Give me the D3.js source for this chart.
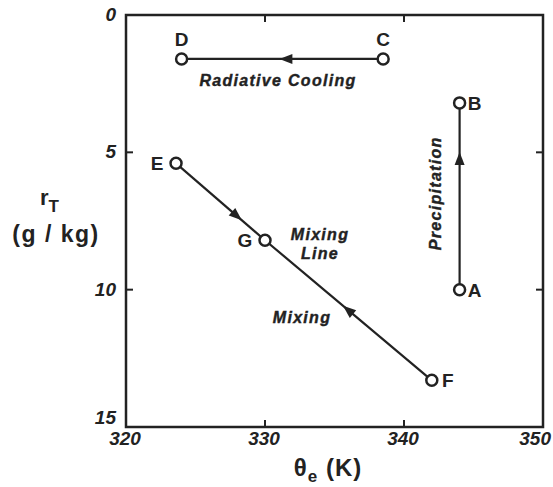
<!DOCTYPE html>
<html>
<head>
<meta charset="UTF-8">
<style>
  body { margin: 0; background: #fff; }
  svg text { font-family: "Liberation Sans", Arial, sans-serif; font-weight: bold; fill: #222; }
</style>
</head>
<body>
<div id="chart"></div>
<script src="https://cdnjs.cloudflare.com/ajax/libs/d3/7.8.5/d3.min.js"></script>
<script>
const pointNames = ["A", "B", "C", "D", "E", "F", "G"];
const thetaE = [344, 344, 338.5, 324, 323.6, 342, 330];
const rT = [10.0, 3.2, 1.6, 1.6, 5.4, 13.3, 8.2];

const segFrom = ["A", "C", "E", "F"];
const segTo = ["B", "D", "G", "G"];

const xTicks = [320, 330, 340, 350];
const yTicks = [0, 5, 10, 15];

const width = 553, height = 487;
const margin = { left: 126, right: 10, top: 15, bottom: 60 };

const svg = d3.select("#chart").append("svg")
    .attr("width", width).attr("height", height);

const x = d3.scaleLinear().domain([320, 350]).range([margin.left, width - margin.right]);
const y = d3.scaleLinear().domain([0, 15]).range([margin.top, height - margin.bottom]);

const ink = "#222";
const pt = {};
pointNames.forEach((n, i) => pt[n] = { x: x(thetaE[i]), y: y(rT[i]) });

// frame
svg.append("rect")
    .attr("x", x(320)).attr("y", y(0))
    .attr("width", x(350) - x(320)).attr("height", y(15) - y(0))
    .attr("fill", "none").attr("stroke", ink).attr("stroke-width", 2.5);

// inward ticks
const tl = 7;
xTicks.slice(1, -1).forEach(t => {
    svg.append("line").attr("x1", x(t)).attr("x2", x(t)).attr("y1", y(15)).attr("y2", y(15) - tl)
        .attr("stroke", ink).attr("stroke-width", 2);
    svg.append("line").attr("x1", x(t)).attr("x2", x(t)).attr("y1", y(0)).attr("y2", y(0) + tl)
        .attr("stroke", ink).attr("stroke-width", 2);
});
yTicks.slice(1, -1).forEach(t => {
    svg.append("line").attr("x1", x(320)).attr("x2", x(320) + tl).attr("y1", y(t)).attr("y2", y(t))
        .attr("stroke", ink).attr("stroke-width", 2);
    svg.append("line").attr("x1", x(350)).attr("x2", x(350) - tl).attr("y1", y(t)).attr("y2", y(t))
        .attr("stroke", ink).attr("stroke-width", 2);
});

// tick labels
svg.selectAll(".xl").data(xTicks).enter().append("text")
    .attr("x", d => d === 350 ? width - 2 : x(d) - 1).attr("y", y(15) + 18)
    .attr("text-anchor", d => d === 350 ? "end" : "middle")
    .attr("font-size", 19).attr("font-style", "italic")
    .text(d => d);
svg.selectAll(".yl").data(yTicks).enter().append("text")
    .attr("x", x(320) - 10).attr("y", d => d === 15 ? y(d) - 3 : y(d) + 6)
    .attr("text-anchor", "end").attr("font-size", 19).attr("font-style", "italic")
    .text(d => d);

// axis titles
const xt = svg.append("text").attr("x", 328).attr("y", 476).attr("text-anchor", "middle")
    .attr("font-size", 24).attr("letter-spacing", 1);
xt.append("tspan").text("θ");
xt.append("tspan").attr("font-size", 17).attr("dy", 6).text("e");
xt.append("tspan").attr("dy", -6).text(" (K)");

const yt = svg.append("text").attr("x", 40).attr("y", 205).attr("font-size", 22);
yt.append("tspan").text("r");
yt.append("tspan").attr("font-size", 17).attr("dy", 7).text("T");
svg.append("text").attr("x", 56).attr("y", 242).attr("text-anchor", "middle")
    .attr("font-size", 23).attr("letter-spacing", 1.5)
    .text("(g / kg)");

// process lines
segFrom.forEach((f, i) => {
    const a = pt[f], b = pt[segTo[i]];
    svg.append("line").attr("x1", a.x).attr("y1", a.y).attr("x2", b.x).attr("y2", b.y)
        .attr("stroke", ink).attr("stroke-width", 2.2);
});

// arrowheads (fraction along each segment)
const arrowAt = [0.7, 0.48, 0.68, 0.5];
segFrom.forEach((f, i) => {
    const a = pt[f], b = pt[segTo[i]];
    const px = a.x + (b.x - a.x) * arrowAt[i], py = a.y + (b.y - a.y) * arrowAt[i];
    const ang = Math.atan2(b.y - a.y, b.x - a.x) * 180 / Math.PI;
    svg.append("path").attr("d", "M7,0 L-6,-5 L-6,5 Z")
        .attr("transform", `translate(${px},${py}) rotate(${ang})`)
        .attr("fill", ink);
});

// points
svg.selectAll("circle.p").data(pointNames).enter().append("circle")
    .attr("cx", d => pt[d].x).attr("cy", d => pt[d].y).attr("r", 5.5)
    .attr("fill", "#fff").attr("stroke", ink).attr("stroke-width", 2.5);

// point letters
const letterPos = { A: [15, 7], B: [15, 7], C: [0, -13], D: [0, -13],
    E: [-19, 7], F: [16, 7], G: [-20, 7] };
pointNames.forEach(n => {
    const p = letterPos[n];
    svg.append("text").attr("x", pt[n].x + p[0]).attr("y", pt[n].y + p[1])
        .attr("text-anchor", "middle").attr("font-size", 19).text(n);
});

// process labels
const lab = (tx, ty, s, rot) => svg.append("text").attr("x", tx).attr("y", ty)
    .attr("text-anchor", "middle").attr("font-size", 16).attr("font-style", "italic")
    .attr("letter-spacing", 1.3).attr("stroke", ink).attr("stroke-width", 0.4)
    .attr("transform", rot ? `rotate(-90 ${tx} ${ty})` : null).text(s);
lab(278, 86, "Radiative  Cooling");
lab(320, 240, "Mixing");
lab(320, 259, "Line");
lab(302, 323, "Mixing");
lab(pt.A.x - 19, (pt.A.y + pt.B.y) / 2 - 3, "Precipitation", true);
</script>
</body>
</html>
